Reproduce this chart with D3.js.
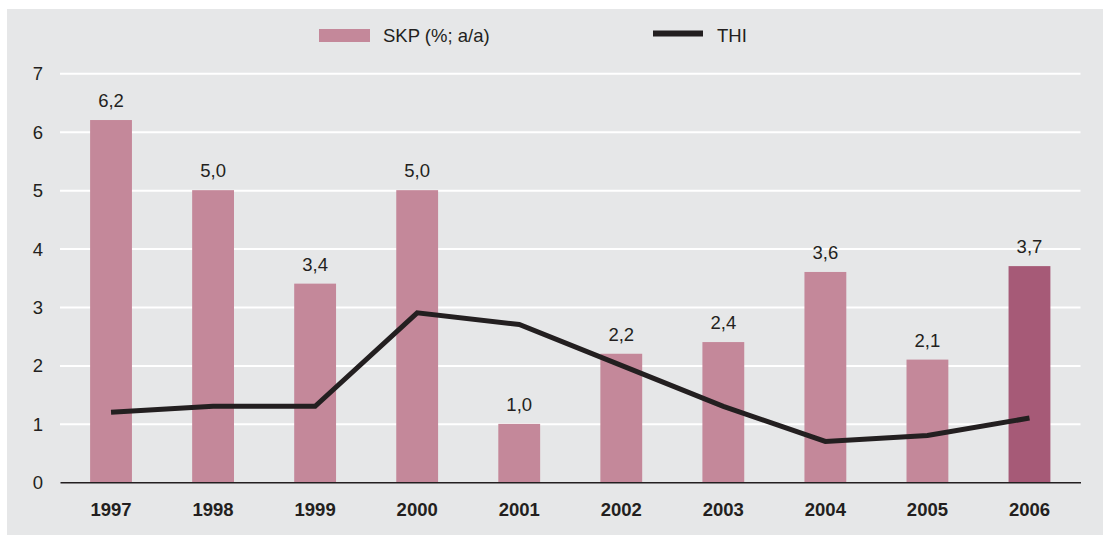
<!DOCTYPE html>
<html>
<head>
<meta charset="utf-8">
<script src="https://cdn.jsdelivr.net/npm/d3@7"></script>
<style>
  body { margin: 0; background: #fff; }
  svg { display: block; font-family: "Liberation Sans", Arial, sans-serif; }
</style>
</head>
<body>
<div id="chart"></div>
<script>
var years = ["1997", "1998", "1999", "2000", "2001", "2002", "2003", "2004", "2005", "2006"];
var skp = [6.2, 5.0, 3.4, 5.0, 1.0, 2.2, 2.4, 3.6, 2.1, 3.7];
var thi = [1.2, 1.3, 1.3, 2.9, 2.7, 2.0, 1.3, 0.7, 0.8, 1.1];
var yTicks = [0, 1, 2, 3, 4, 5, 6, 7];

var W = 1103, H = 535;
var margin = {left: 60, top: 73.3, right: 22.5, bottom: 52.7},
    width = W - margin.left - margin.right,
    height = H - margin.top - margin.bottom;

var svg = d3.select("#chart").append("svg")
    .attr("width", W)
    .attr("height", H);

// grey panel
svg.append("rect")
    .attr("x", 7).attr("y", 9)
    .attr("width", W - 7).attr("height", H - 9)
    .attr("fill", "#e6e7e8");

var x = d3.scaleBand().domain(years).range([0, width]).paddingInner(0.59).paddingOuter(0.295),
    y = d3.scaleLinear().domain([0, 7]).range([height, 0]);

var g = svg.append("g")
    .attr("transform", "translate(" + margin.left + "," + margin.top + ")");

// gridlines + y labels
g.append("g")
    .call(d3.axisLeft(y).tickValues(yTicks).tickSize(-width).tickFormat(d3.format("d")))
    .call(function(a) {
      a.select(".domain").remove();
      a.selectAll(".tick line").attr("stroke", "#fff").attr("stroke-width", 2)
        .filter(function(d) { return d === 0; }).attr("stroke", "none");
      a.selectAll(".tick text").attr("x", -17).attr("dy", "0.35em")
        .attr("fill", "#231f20").style("font-size", "18.5px");
    });

// bars
g.selectAll(".bar")
    .data(skp)
  .enter().append("rect")
    .attr("class", "bar")
    .attr("x", function(d, i) { return x(years[i]); })
    .attr("y", function(d) { return y(d); })
    .attr("width", x.bandwidth())
    .attr("height", function(d) { return height - y(d); })
    .attr("fill", function(d, i) { return i === years.length - 1 ? "#a65a77" : "#c4889a"; });

// value labels
g.selectAll(".val")
    .data(skp)
  .enter().append("text")
    .attr("class", "val")
    .attr("x", function(d, i) { return x(years[i]) + x.bandwidth() / 2; })
    .attr("y", function(d) { return y(d) - 13; })
    .attr("text-anchor", "middle")
    .attr("fill", "#231f20")
    .style("font-size", "18.5px")
    .text(function(d) { return d3.format(".1f")(d).replace(".", ","); });

// x axis
g.append("g")
    .attr("transform", "translate(0," + height + ")")
    .call(d3.axisBottom(x).tickSize(0).tickPadding(21))
    .call(function(a) {
      a.select(".domain").attr("stroke", "#231f20").attr("stroke-width", 1.5);
      a.selectAll(".tick text").attr("fill", "#231f20")
        .style("font-size", "18.5px").style("font-weight", "bold");
    });

// THI line
var line = d3.line()
    .x(function(d, i) { return x(years[i]) + x.bandwidth() / 2; })
    .y(function(d) { return y(d); });

g.append("path")
    .datum(thi)
    .attr("fill", "none")
    .attr("stroke", "#231f20")
    .attr("stroke-width", 5)
    .attr("d", line);

// legend
var leg = svg.append("g");
leg.append("rect").attr("x", 319).attr("y", 29).attr("width", 51).attr("height", 13).attr("fill", "#c4889a");
leg.append("text").attr("x", 383).attr("y", 42).attr("fill", "#231f20")
    .style("font-size", "18.5px").text("SKP (%; a/a)");
leg.append("line").attr("x1", 653).attr("x2", 703).attr("y1", 33.5).attr("y2", 33.5)
    .attr("stroke", "#231f20").attr("stroke-width", 6);
leg.append("text").attr("x", 717).attr("y", 42).attr("fill", "#231f20")
    .style("font-size", "18.5px").text("THI");
</script>
</body>
</html>
